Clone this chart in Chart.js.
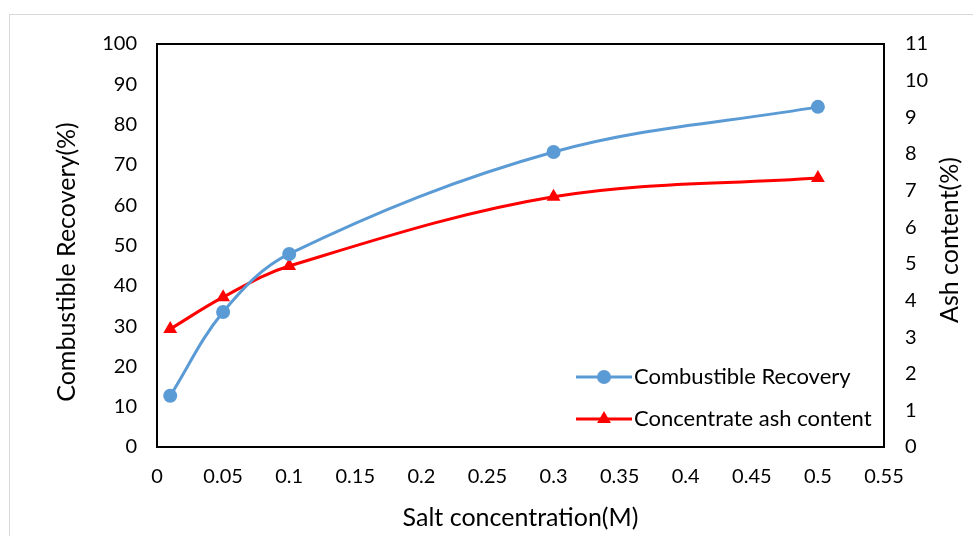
<!DOCTYPE html>
<html>
<head>
<meta charset="utf-8">
<script src="https://cdn.jsdelivr.net/npm/chart.js@4"></script>
<style>
  html, body { margin: 0; padding: 0; background: #fff; overflow: hidden; }
  #frame { position: absolute; left: 9px; top: 14px; width: 1000px; height: 600px; border: 1px solid #d9d9d9; }
  #wrap { position: absolute; left: 0; top: 0; width: 973px; height: 536px; }
</style>
</head>
<body>
<div id="frame"></div>
<div id="wrap"><canvas id="chart"></canvas></div>
<script>
// Salt concentration (M) vs. flotation results
const saltConc = [0.01, 0.05, 0.1, 0.3, 0.5];
const recovery = [12.7, 33.5, 47.9, 73.2, 84.4];   // Combustible Recovery (%)
const ashContent = [3.22, 4.09, 4.94, 6.83, 7.34]; // Concentrate ash content (%)

const FONT = 'Lato, "Open Sans", sans-serif';
const TICK_SIZE = 20;
const TITLE_SIZE = 25;
const LEGEND_SIZE = 22;
const BLUE = '#5B9BD5';
const RED = '#FF0000';

const fmt = (v) => String(parseFloat(Number(v).toFixed(2)));

// black box around the plot area
const plotBox = {
  id: 'plotBox',
  afterDraw(chart) {
    const { ctx, chartArea: a } = chart;
    ctx.save();
    ctx.strokeStyle = '#000';
    ctx.lineWidth = 2;
    ctx.strokeRect(a.left, a.top, a.right - a.left, a.bottom - a.top);
    ctx.restore();
  },
};

// vertical axis titles, both reading bottom to top
const sideTitles = {
  id: 'sideTitles',
  afterDraw(chart) {
    const { ctx } = chart;
    const titles = [
      { text: 'Combustible Recovery(%)', x: 67, y: 262 },
      { text: 'Ash content(%)', x: 950, y: 240 },
    ];
    titles.forEach((t) => {
      ctx.save();
      ctx.translate(t.x, t.y);
      ctx.rotate(-Math.PI / 2);
      ctx.fillStyle = '#000';
      ctx.font = TITLE_SIZE + 'px ' + FONT;
      ctx.textAlign = 'center';
      ctx.textBaseline = 'middle';
      ctx.fillText(t.text, 0, 0);
      ctx.restore();
    });
  },
};

// legend drawn inside the lower right of the plot
const innerLegend = {
  id: 'innerLegend',
  afterDraw(chart) {
    const { ctx } = chart;
    const rows = [
      { text: 'Combustible Recovery', color: BLUE, style: 'circle', r: 7, y: 377 },
      { text: 'Concentrate ash content', color: RED, style: 'triangle', r: 8, y: 419 },
    ];
    ctx.save();
    rows.forEach((row) => {
      ctx.strokeStyle = row.color;
      ctx.lineWidth = 3;
      ctx.beginPath();
      ctx.moveTo(576, row.y);
      ctx.lineTo(632, row.y);
      ctx.stroke();
      ctx.fillStyle = row.color;
      Chart.helpers.drawPoint(ctx, { pointStyle: row.style, radius: row.r, borderWidth: 0 }, 604, row.y);
      ctx.fillStyle = '#000';
      ctx.font = LEGEND_SIZE + 'px ' + FONT;
      ctx.textBaseline = 'middle';
      ctx.textAlign = 'left';
      ctx.fillText(row.text, 634, row.y);
    });
    ctx.restore();
  },
};

new Chart(document.getElementById('chart'), {
  type: 'line',
  data: {
    datasets: [
      {
        label: 'Combustible Recovery',
        data: saltConc.map((x, i) => ({ x, y: recovery[i] })),
        yAxisID: 'y',
        borderColor: BLUE,
        backgroundColor: BLUE,
        borderWidth: 3,
        pointStyle: 'circle',
        pointRadius: 7,
        pointBorderWidth: 0,
        tension: 0.35,
      },
      {
        label: 'Concentrate ash content',
        data: saltConc.map((x, i) => ({ x, y: ashContent[i] })),
        yAxisID: 'y2',
        borderColor: RED,
        backgroundColor: RED,
        borderWidth: 3,
        pointStyle: 'triangle',
        pointRadius: 8,
        pointBorderWidth: 0,
        tension: 0.35,
      },
    ],
  },
  options: {
    responsive: true,
    maintainAspectRatio: false,
    animation: false,
    layout: { padding: { top: 44, left: 0, right: 0, bottom: 0 } },
    plugins: {
      legend: { display: false },
      tooltip: { enabled: false },
    },
    scales: {
      x: {
        type: 'linear',
        min: 0,
        max: 0.55,
        grid: { display: false, drawTicks: false },
        border: { display: false },
        ticks: { stepSize: 0.05, color: '#000', font: { family: FONT, size: TICK_SIZE }, padding: 18, callback: fmt, maxRotation: 0 },
        title: { display: true, text: 'Salt concentration(M)', color: '#000', font: { family: FONT, size: TITLE_SIZE }, padding: { bottom: 3 } },
        afterFit: (s) => { s.height = 89; },
      },
      y: {
        position: 'left',
        min: 0,
        max: 100,
        grid: { display: false, drawTicks: false },
        border: { display: false },
        ticks: { stepSize: 10, color: '#000', font: { family: FONT, size: TICK_SIZE }, padding: 20 },
        title: { display: false },
        afterFit: (s) => { s.width = 157; },
      },
      y2: {
        position: 'right',
        min: 0,
        max: 11,
        grid: { display: false, drawTicks: false },
        border: { display: false },
        ticks: { stepSize: 1, color: '#000', font: { family: FONT, size: TICK_SIZE }, padding: 21 },
        title: { display: false },
        afterFit: (s) => { s.width = 89; },
      },
    },
  },
  plugins: [plotBox, sideTitles, innerLegend],
});
</script>
</body>
</html>
